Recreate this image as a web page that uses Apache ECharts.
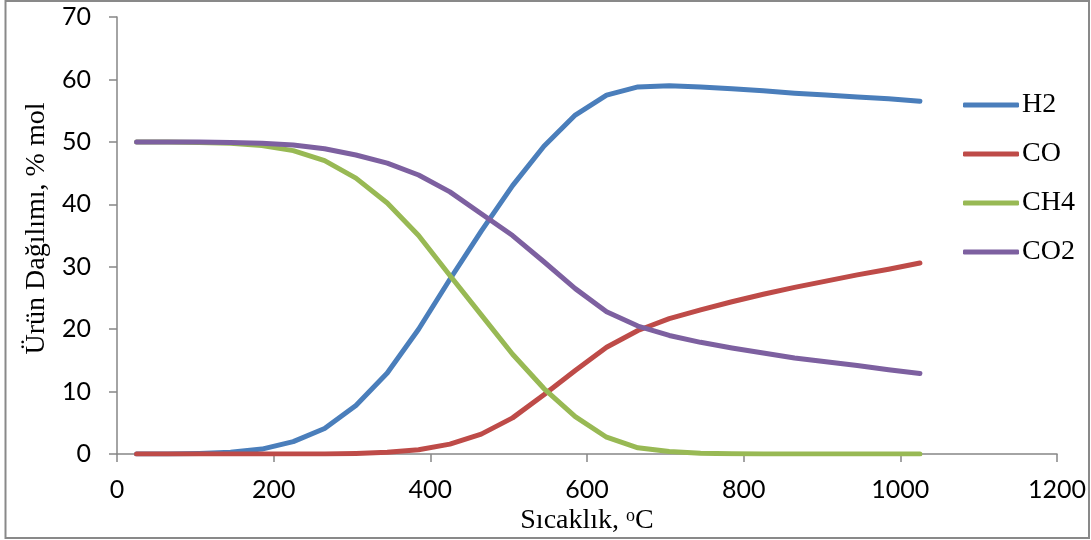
<!DOCTYPE html>
<html>
<head>
<meta charset="utf-8">
<script src="https://cdn.jsdelivr.net/npm/echarts@6/dist/echarts.min.js"></script>
<style>
html,body{margin:0;padding:0;background:#fff;}
#chart{width:1091px;height:540px;}
</style>
</head>
<body>
<div id="chart"></div>
<script>
// Temperature (°C)
const temperatures = [25, 65, 105, 145, 185, 225, 265, 305, 345, 385, 425, 465, 505, 545, 585, 625, 665, 705, 745, 785, 825, 865, 905, 945, 985, 1025];
const seriesNames = ['H2', 'CO', 'CH4', 'CO2'];
const h2  = [0, 0, 0.1, 0.3, 0.8, 2.0, 4.1, 7.8, 13.0, 20.0, 28.0, 35.7, 43.0, 49.3, 54.3, 57.5, 58.8, 59.0, 58.8, 58.5, 58.2, 57.8, 57.5, 57.2, 56.9, 56.5];
const co  = [0, 0, 0, 0, 0, 0, 0, 0.1, 0.3, 0.7, 1.6, 3.2, 5.8, 9.5, 13.4, 17.1, 19.8, 21.7, 23.1, 24.4, 25.6, 26.7, 27.7, 28.7, 29.6, 30.6];
const ch4 = [50, 50, 49.9, 49.8, 49.4, 48.6, 47.0, 44.2, 40.2, 35.0, 28.6, 22.3, 16.0, 10.5, 6.0, 2.7, 1.0, 0.4, 0.15, 0.05, 0, 0, 0, 0, 0, 0];
const co2 = [50, 50, 50, 49.9, 49.8, 49.5, 48.9, 47.9, 46.6, 44.7, 42.0, 38.5, 35.0, 30.8, 26.5, 22.8, 20.5, 19.0, 17.9, 17.0, 16.2, 15.4, 14.8, 14.2, 13.5, 12.9];
const xTicks = {min: 0, max: 1200, interval: 200};
const yTicks = {min: 0, max: 70, interval: 10};

const colors = ['#4A7EBB', '#BE4B48', '#98B954', '#7D60A0'];
const values = [h2, co, ch4, co2];

const chart = echarts.init(document.getElementById('chart'), null, {renderer: 'canvas'});
const axisGray = '#868686';
const tickFont = 'Lato, "Open Sans", sans-serif';
const serif = '"Liberation Serif", "Times New Roman", serif';

chart.setOption({
  animation: false,
  backgroundColor: '#ffffff',
  grid: {left: 117, right: 34, top: 17, bottom: 84, containLabel: false},
  graphic: [{
    type: 'rect',
    shape: {x: 5.5, y: 1, width: 1083.5, height: 537},
    style: {fill: 'none', stroke: '#898989', lineWidth: 2},
    silent: true
  }],
  legend: {
    orient: 'vertical',
    left: 958,
    top: 86,
    itemWidth: 56,
    itemHeight: 5,
    itemGap: 21,
    icon: 'roundRect',
    data: seriesNames,
    textStyle: {fontFamily: serif, fontSize: 28, color: '#000', lineHeight: 28, padding: [0, 0, 0, -2]}
  },
  xAxis: {
    type: 'value',
    min: xTicks.min, max: xTicks.max, interval: xTicks.interval,
    name: 'Sıcaklık, {sup|o}C',
    nameLocation: 'middle',
    nameGap: 47,
    nameTextStyle: {
      fontFamily: serif, fontSize: 28, color: '#000',
      rich: {sup: {fontFamily: serif, fontSize: 18, color: '#000', verticalAlign: 'top', padding: [0, 0, 10, 0]}}
    },
    axisLine: {show: true, onZero: false, lineStyle: {color: axisGray, width: 1.5}},
    axisTick: {show: true, inside: false, length: 8, lineStyle: {color: axisGray, width: 1.5}},
    axisLabel: {fontFamily: tickFont, fontSize: 25, color: '#000', margin: 23, formatter: v => String(v)},
    splitLine: {show: false}
  },
  yAxis: {
    type: 'value',
    min: yTicks.min, max: yTicks.max, interval: yTicks.interval,
    name: 'Ürün Dağılımı, % mol',
    nameLocation: 'middle',
    nameGap: 64,
    nameTextStyle: {fontFamily: serif, fontSize: 28, color: '#000', padding: [0, 0, 0, 14]},
    axisLine: {show: true, lineStyle: {color: axisGray, width: 1.5}},
    axisTick: {show: true, inside: false, length: 8, lineStyle: {color: axisGray, width: 1.5}},
    axisLabel: {fontFamily: tickFont, fontSize: 25, color: '#000', margin: 26, formatter: v => String(v)},
    splitLine: {show: false}
  },
  series: seriesNames.map((n, i) => ({
    name: n,
    type: 'line',
    data: temperatures.map((t, k) => [t, values[i][k]]),
    symbol: 'none',
    smooth: false,
    lineStyle: {color: colors[i], width: 5, cap: 'round', join: 'round'},
    itemStyle: {color: colors[i]},
    z: 2 + i
  }))
});
</script>
</body>
</html>
